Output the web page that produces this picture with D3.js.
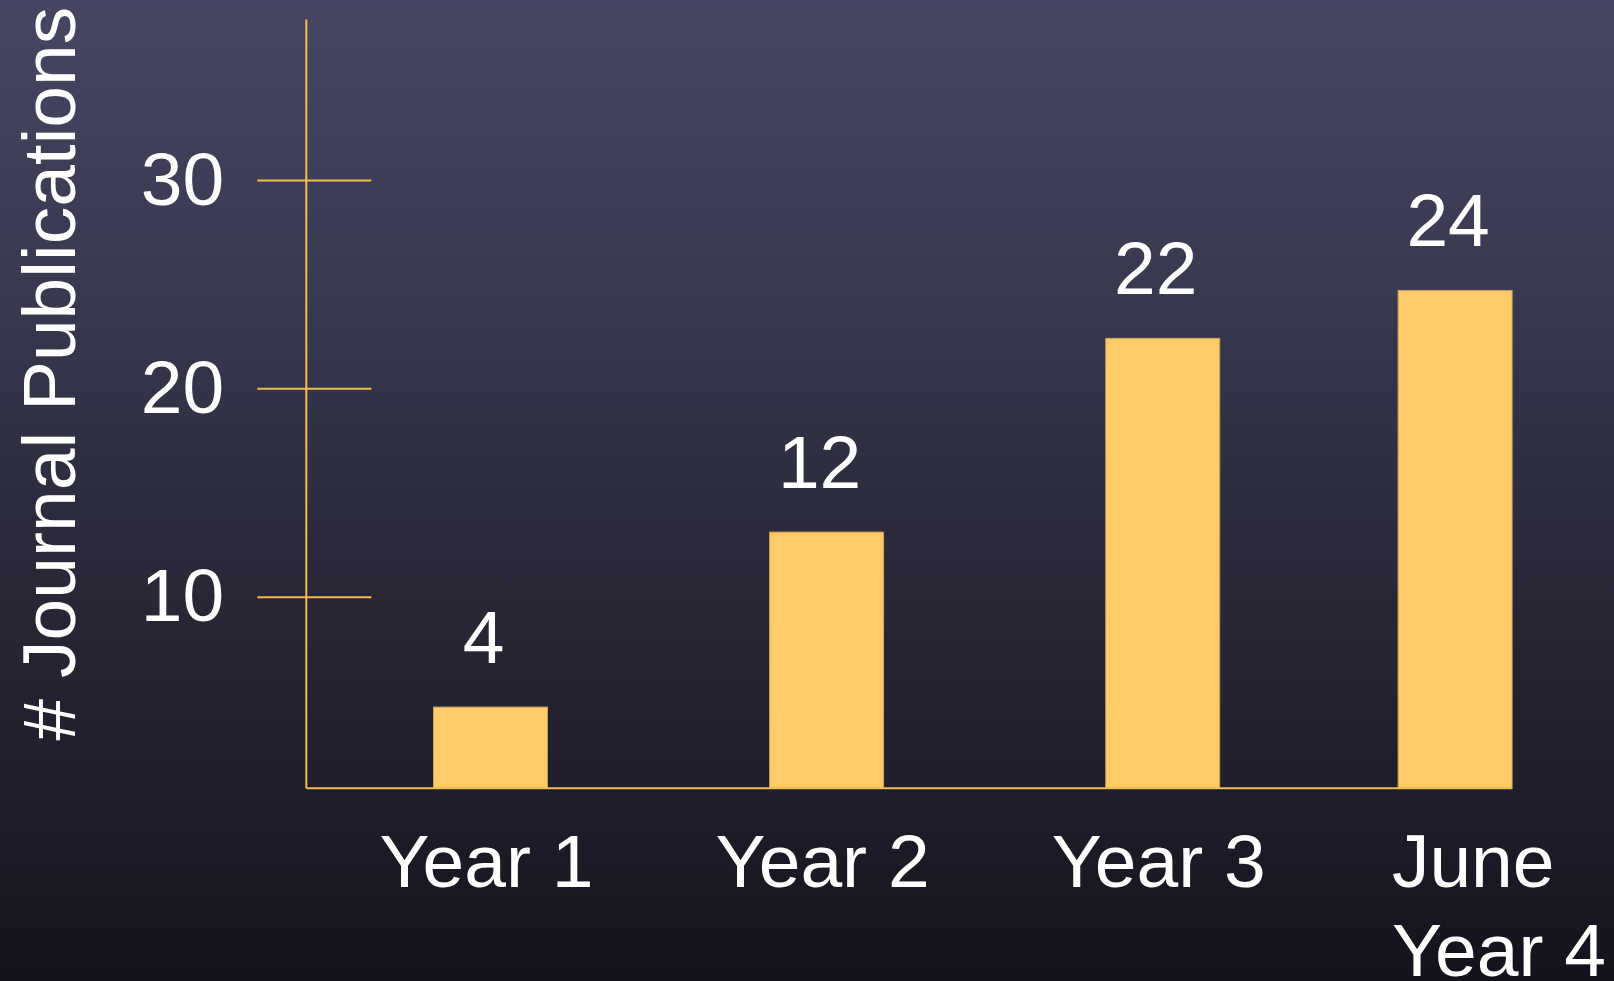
<!DOCTYPE html>
<html>
<head>
<meta charset="utf-8">
<script src="https://cdn.jsdelivr.net/npm/d3@7/dist/d3.min.js"></script>
<style>
  html, body { margin: 0; padding: 0; overflow: hidden; background: #15131c; }
  svg { display: block; }
  text { font-family: "Liberation Sans", Arial, Helvetica, sans-serif; fill: #ffffff; }
</style>
</head>
<body>
<svg id="chart" width="1614" height="981"></svg>
<script>
// ---------------- data ----------------
const categories = ["Year 1", "Year 2", "Year 3", "June Year 4"];
const categoryLines = [["Year 1"], ["Year 2"], ["Year 3"], ["June", "Year 4"]];
const periodIndex = [1, 2, 3, 3.87];            // time position of each period (years)
const barValues = [4.7, 13.1, 22.4, 24.7];        // bar heights read against the axis
const valueLabels = ["4", "12", "22", "24"];      // printed data labels
const yTicks = [10, 20, 30];
const yTickLabels = ["10", "20", "30"];
const yAxisTitle = "# Journal Publications";
const axisBaseValue = 0.8;
const axisTopValue = 37.7;

// ---------------- setup ----------------
const W = 1614, H = 981;
const svg = d3.select("#chart");

const defs = svg.append("defs");
const grad = defs.append("linearGradient")
  .attr("id", "bg").attr("x1", 0).attr("y1", 0).attr("x2", 0).attr("y2", 1);
[[0, "rgb(70,70,98)"], [0.28, "rgb(57,58,80)"], [0.55, "rgb(42,42,58)"],
 [0.8, "rgb(31,30,43)"], [1, "rgb(20,18,27)"]].forEach(([o, c]) =>
  grad.append("stop").attr("offset", o).attr("stop-color", c));
svg.append("rect").attr("width", W).attr("height", H).attr("fill", "url(#bg)");

const axisColor = "#f2bd4f";
const barColor = "#fecb69";
const fontSize = 75;

const x = d3.scaleLinear().domain([1, 3]).range([490.5, 1162.7]);
const y = d3.scaleLinear().domain([0, 30]).range([805, 180]);
const axisX = 306.3;
const barW = 114;

// ---------------- bars ----------------
svg.append("g").selectAll("rect")
  .data(barValues)
  .join("rect")
  .attr("x", (d, i) => x(periodIndex[i]) - barW / 2)
  .attr("y", d => y(d))
  .attr("width", barW)
  .attr("height", d => y(axisBaseValue) - y(d))
  .attr("fill", barColor)
  .attr("stroke", "#c9a05e")
  .attr("stroke-width", 1);

// ---------------- axes ----------------
const lastBarRight = x(periodIndex[periodIndex.length - 1]) + barW / 2;
svg.append("line")
  .attr("x1", axisX).attr("x2", lastBarRight)
  .attr("y1", y(axisBaseValue)).attr("y2", y(axisBaseValue))
  .attr("stroke", axisColor).attr("stroke-width", 2);

const yAxis = d3.axisLeft(y)
  .tickValues(yTicks)
  .tickSize(0)
  .tickPadding(82)
  .tickFormat((d, i) => yTickLabels[i]);

const gy = svg.append("g").attr("transform", `translate(${axisX},0)`).call(yAxis);
gy.select(".domain").remove();
gy.selectAll(".tick line")
  .attr("x1", -49).attr("x2", 65)
  .attr("stroke", axisColor).attr("stroke-width", 2);
gy.selectAll(".tick text")
  .attr("font-size", fontSize)
  .attr("font-family", '"Liberation Sans", Arial, sans-serif')
  .attr("fill", "#ffffff");

svg.append("line")
  .attr("x1", axisX).attr("x2", axisX)
  .attr("y1", y(axisTopValue)).attr("y2", y(axisBaseValue))
  .attr("stroke", axisColor).attr("stroke-width", 2);

// ---------------- value labels ----------------
svg.append("g").selectAll("text")
  .data(valueLabels)
  .join("text")
  .attr("x", (d, i) => x(periodIndex[i]) - 7)
  .attr("y", (d, i) => y(barValues[i]) - 44)
  .attr("text-anchor", "middle")
  .attr("font-size", fontSize)
  .text(d => d);

// ---------------- category labels ----------------
const catBase = 887;
const lineH = 89;
categoryLines.forEach((lines, i) => {
  const t = svg.append("text")
    .attr("font-size", fontSize)
    .attr("y", catBase);
  if (lines.length === 1) {
    t.attr("x", x(periodIndex[i]) - 4).attr("text-anchor", "middle").text(lines[0]);
  } else {
    // multi-line label: left-aligned block pushed against the page's right margin
    t.attr("text-anchor", "start");
    const spans = lines.map((ln, k) =>
      t.append("tspan").attr("dy", k === 0 ? 0 : lineH).text(ln));
    const blockW = d3.max(spans, s => s.node().getComputedTextLength());
    const left = W - 8 - blockW;
    spans.forEach(s => s.attr("x", left));
  }
});

// ---------------- y axis title ----------------
svg.append("text")
  .attr("transform", "translate(75,373.6) rotate(-90)")
  .attr("text-anchor", "middle")
  .attr("font-size", fontSize)
  .text(yAxisTitle);
</script>
</body>
</html>
